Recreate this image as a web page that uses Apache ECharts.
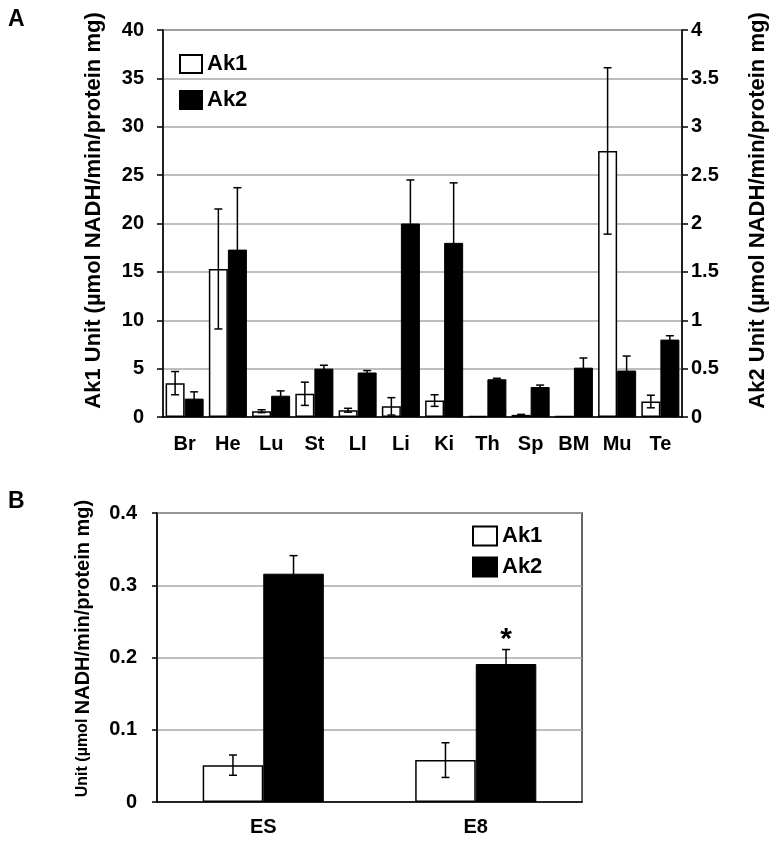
<!DOCTYPE html>
<html><head><meta charset="utf-8">
<script src="https://cdn.jsdelivr.net/npm/echarts@6/dist/echarts.min.js"></script>
<style>html,body{margin:0;padding:0;background:#fff}#c{width:777px;height:841px}</style>
</head><body><div id="c"></div>
<script>
// Panel A data
const tissues = ['Br','He','Lu','St','LI','Li','Ki','Th','Sp','BM','Mu','Te'];
const ak1A    = [3.5, 15.3, 0.6, 2.4, 0.7, 1.1, 1.7, 0.08, 0.22, 0.08, 27.5, 1.6];
const ak1AErr = [1.2, 6.2, 0.15, 1.2, 0.2, 0.9, 0.6, 0, 0.05, 0, 8.6, 0.65];
const ak2A    = [0.19, 1.73, 0.22, 0.50, 0.46, 2.0, 1.8, 0.39, 0.31, 0.51, 0.48, 0.80];
const ak2AErr = [0.07, 0.64, 0.05, 0.035, 0.02, 0.45, 0.62, 0.01, 0.02, 0.1, 0.15, 0.04];
// Panel B data
const stages  = ['ES','E8'];
const ak1B    = [0.051, 0.058];
const ak1BErr = [0.014, 0.024];
const ak2B    = [0.316, 0.191];
const ak2BErr = [0.025, 0.020];
const sigB    = ['', '*'];

const FONT = 'Liberation Sans, Arial, sans-serif';
const txt = (s) => ({color:'#000', fontFamily:FONT, fontWeight:'bold', fontSize:s});

function errSeries(xi, yi, vals, errs, side, frac, marks){
  return {
    type:'custom', xAxisIndex:xi, yAxisIndex:yi, silent:true, z:10,
    data: vals.map((v,i)=>[i, v, errs[i]]),
    renderItem(params, api){
      const i = api.value(0), v = api.value(1), e = api.value(2);
      const band = api.size([1,0])[0];
      const cx = api.coord([i, v])[0] + side*frac*band/2;
      const yt = api.coord([i, v+e])[1];
      const yb = api.coord([i, Math.max(v-e,0)])[1];
      const h = 4;
      const st = {stroke:'#000', lineWidth:1.5};
      const ch = [];
      if (e > 0) {
        ch.push({type:'line', shape:{x1:cx,y1:yt,x2:cx,y2:yb}, style:st});
        ch.push({type:'line', shape:{x1:cx-h,y1:yt,x2:cx+h,y2:yt}, style:st});
        ch.push({type:'line', shape:{x1:cx-h,y1:yb,x2:cx+h,y2:yb}, style:st});
      }
      if (marks && marks[i]) {
        ch.push({type:'text', x:cx, y:yt-10, style:{text:marks[i], fill:'#000',
          font:'bold 30px Liberation Sans', textAlign:'center', textVerticalAlign:'middle'}});
      }
      return {type:'group', children:ch};
    }
  };
}

const chart = echarts.init(document.getElementById('c'), null, {renderer:'canvas'});
const gridLine = {show:true, lineStyle:{color:'#a8a8a8', width:1.5}};
chart.setOption({
  animation:false,
  backgroundColor:'#fff',
  graphic:[
    {type:'text', left:8, top:8, style:{text:'A', font:'bold 23px Liberation Sans', fill:'#000'}},
    {type:'text', left:8, top:490, style:{text:'B', font:'bold 23px Liberation Sans', fill:'#000'}}
  ],
  legend:[
    {left:179, top:53, orient:'vertical', itemWidth:22, itemHeight:18, itemGap:14, padding:0,
     icon:'rect', data:['Ak1','Ak2'], textStyle:txt(22), selectedMode:false},
    {left:472, top:525, orient:'vertical', itemWidth:24, itemHeight:19, itemGap:9, padding:0,
     icon:'rect', data:['Ak1','Ak2'], textStyle:txt(22), selectedMode:false}
  ],
  grid:[
    {left:163, right:95, top:30, bottom:424, show:true, borderColor:'#555', borderWidth:1.5},
    {left:157, right:195, top:513, bottom:39, show:true, borderColor:'#333', borderWidth:1.5}
  ],
  xAxis:[
    {type:'category', gridIndex:0, data:tissues, axisTick:{show:false},
     axisLine:{lineStyle:{color:'#000', width:1.5}}, axisLabel:{...txt(20), margin:17}},
    {type:'category', gridIndex:1, data:stages, axisTick:{show:false},
     axisLine:{lineStyle:{color:'#000', width:1.5}}, axisLabel:{...txt(20), margin:15}}
  ],
  yAxis:[
    {type:'value', gridIndex:0, min:0, max:40, interval:5, position:'left',
     axisLine:{show:true, lineStyle:{color:'#000', width:1.5}},
     axisTick:{show:true, length:6, lineStyle:{color:'#000', width:1.5}},
     axisLabel:{...txt(20), margin:19}, splitLine:gridLine,
     name:'Ak1 Unit (µmol NADH/min/protein mg)', nameLocation:'middle', nameRotate:90, nameGap:58,
     nameTextStyle:{...txt(22), padding:[0,0,0,26]}},
    {type:'value', gridIndex:0, min:0, max:4, interval:0.5, position:'right',
     axisLine:{show:true, lineStyle:{color:'#000', width:1.5}},
     axisTick:{show:true, length:6, lineStyle:{color:'#000', width:1.5}},
     axisLabel:{...txt(20), margin:9}, splitLine:{show:false},
     name:'Ak2 Unit (µmol NADH/min/protein mg)', nameLocation:'middle', nameRotate:90, nameGap:65,
     nameTextStyle:{...txt(22), padding:[0,0,0,26]}},
    {type:'value', gridIndex:1, min:0, max:0.4, interval:0.1,
     axisLine:{show:true, lineStyle:{color:'#000', width:1.5}},
     axisTick:{show:true, length:5, lineStyle:{color:'#000', width:1.5}},
     axisLabel:{...txt(20), margin:20}, splitLine:gridLine,
     name:'{s|Unit (µmol }{b|NADH/min/protein mg)}', nameLocation:'middle', nameRotate:90, nameGap:64,
     nameTextStyle:{...txt(20), padding:[0,0,0,18], rich:{s:{...txt(16)}, b:{...txt(20)}}}}
  ],
  series:[
    {name:'Ak1', type:'bar', xAxisIndex:0, yAxisIndex:0, data:ak1A, barWidth:'44%', barGap:'0%',
     itemStyle:{color:'#fff', borderColor:'#000', borderWidth:1.5}},
    {name:'Ak2', type:'bar', xAxisIndex:0, yAxisIndex:1, data:ak2A, barWidth:'44%', barGap:'0%',
     itemStyle:{color:'#000', borderColor:'#000', borderWidth:1}},
    errSeries(0, 0, ak1A, ak1AErr, -1, 0.44),
    errSeries(0, 1, ak2A, ak2AErr, 1, 0.44),
    {name:'Ak1', type:'bar', xAxisIndex:1, yAxisIndex:2, data:ak1B, barWidth:'28.5%', barGap:'0%',
     itemStyle:{color:'#fff', borderColor:'#000', borderWidth:1.5}},
    {name:'Ak2', type:'bar', xAxisIndex:1, yAxisIndex:2, data:ak2B, barWidth:'28.5%', barGap:'0%',
     itemStyle:{color:'#000', borderColor:'#000', borderWidth:1}},
    errSeries(1, 2, ak1B, ak1BErr, -1, 0.285),
    errSeries(1, 2, ak2B, ak2BErr, 1, 0.285, sigB)
  ]
});
</script></body></html>
